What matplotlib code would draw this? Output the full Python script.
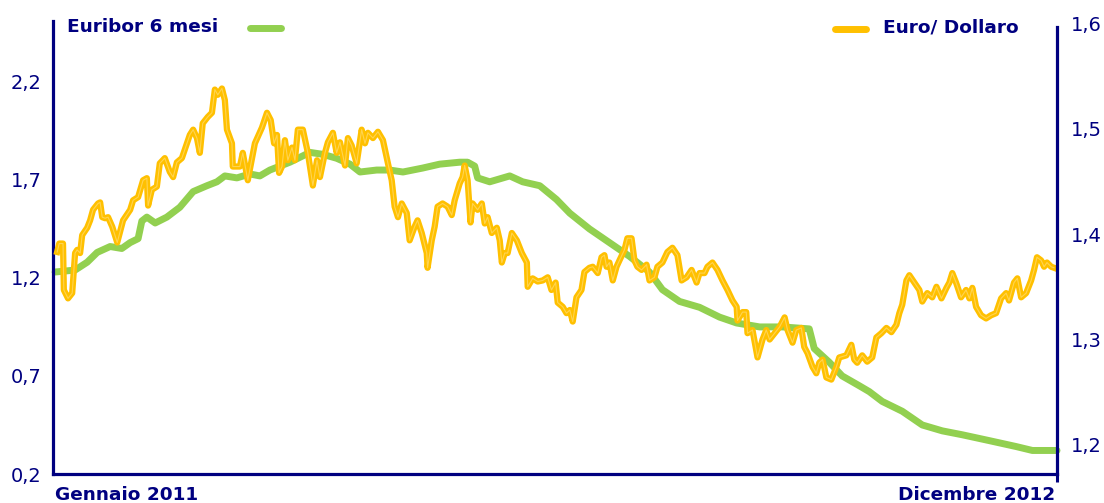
import matplotlib
matplotlib.use("Agg")
import matplotlib.pyplot as plt
from matplotlib.lines import Line2D

# Euribor 6 mesi (left axis), months since January 2011
euribor_months = [0, 0.48, 0.77, 1.01, 1.32, 1.60, 1.80, 1.99, 2.08, 2.20, 2.40, 2.68, 2.99,
                  3.31, 3.64, 3.88, 4.07, 4.36, 4.67, 4.91, 5.15, 5.63, 6.11, 6.42, 6.75,
                  7.07, 7.31, 7.71, 8.02, 8.34, 8.81, 9.22, 9.70, 9.89, 10.06, 10.13, 10.42,
                  10.90, 11.21, 11.62, 12.02, 12.34, 12.81, 13.29, 13.77, 14.25, 14.56, 14.97,
                  15.45, 15.93, 16.34, 16.89, 17.44, 18.08, 18.20, 18.56, 18.87, 19.28, 19.52,
                  19.83, 20.31, 20.79, 21.27, 21.75, 22.40, 23.04, 23.43, 24.02]
euribor_6m = [1.23, 1.24, 1.28, 1.33, 1.36, 1.35, 1.38, 1.40, 1.49, 1.51, 1.48, 1.51, 1.56,
              1.64, 1.67, 1.69, 1.72, 1.71, 1.73, 1.72, 1.75, 1.79, 1.84, 1.83, 1.81,
              1.78, 1.74, 1.75, 1.75, 1.74, 1.76, 1.78, 1.79, 1.79, 1.77, 1.71, 1.69,
              1.72, 1.69, 1.67, 1.60, 1.53, 1.45, 1.38, 1.31, 1.23, 1.14, 1.08,
              1.05, 1.00, 0.97, 0.95, 0.95, 0.94, 0.84, 0.77, 0.70, 0.65, 0.62,
              0.57, 0.52, 0.45, 0.42, 0.40, 0.37, 0.34, 0.32, 0.32]

# Euro / Dollaro (right axis)
fx_months = [0.05, 0.10, 0.19, 0.21, 0.31, 0.41, 0.48, 0.53, 0.60, 0.65, 0.77, 0.84, 0.91,
             1.03, 1.08, 1.13, 1.20, 1.27, 1.37, 1.49, 1.63, 1.80, 1.87, 1.99, 2.11, 2.20,
             2.23, 2.32, 2.44, 2.51, 2.63, 2.75, 2.83, 2.92, 3.04, 3.16, 3.23, 3.31, 3.40,
             3.47, 3.54, 3.66, 3.76, 3.83, 3.90, 4.00, 4.07, 4.12, 4.24, 4.26, 4.43, 4.50,
             4.62, 4.79, 4.96, 5.08, 5.17, 5.25, 5.32, 5.37, 5.44, 5.51, 5.58, 5.68, 5.75,
             5.82, 5.94, 6.06, 6.18, 6.28, 6.35, 6.47, 6.54, 6.66, 6.75, 6.83, 6.95, 7.02,
             7.11, 7.23, 7.35, 7.43, 7.50, 7.62, 7.74, 7.86, 7.98, 8.07, 8.14, 8.22, 8.31,
             8.43, 8.50, 8.62, 8.69, 8.79, 8.91, 8.93, 9.03, 9.10, 9.17, 9.29, 9.41, 9.51,
             9.58, 9.70, 9.77, 9.82, 9.89, 9.96, 10.01, 10.13, 10.23, 10.30, 10.37, 10.47,
             10.59, 10.66, 10.71, 10.78, 10.85, 10.95, 11.07, 11.19, 11.31, 11.33, 11.45,
             11.57, 11.69, 11.81, 11.90, 12.00, 12.05, 12.17, 12.26, 12.34, 12.41, 12.50,
             12.62, 12.69, 12.81, 12.89, 13.01, 13.10, 13.17, 13.22, 13.29, 13.37, 13.46,
             13.53, 13.65, 13.72, 13.82, 13.89, 13.96, 14.06, 14.18, 14.25, 14.37, 14.44,
             14.56, 14.68, 14.80, 14.92, 15.02, 15.14, 15.26, 15.38, 15.45, 15.57, 15.64,
             15.76, 15.88, 16.00, 16.12, 16.24, 16.34, 16.36, 16.48, 16.57, 16.60, 16.72,
             16.84, 16.96, 17.05, 17.13, 17.25, 17.37, 17.49, 17.56, 17.68, 17.77, 17.89,
             17.96, 18.04, 18.16, 18.25, 18.32, 18.40, 18.49, 18.61, 18.73, 18.80, 18.97,
             19.09, 19.16, 19.23, 19.35, 19.47, 19.59, 19.69, 19.81, 19.93, 20.05, 20.17,
             20.24, 20.31, 20.41, 20.48, 20.60, 20.72, 20.79, 20.91, 21.03, 21.13, 21.25,
             21.37, 21.44, 21.51, 21.60, 21.72, 21.84, 21.92, 21.99, 22.08, 22.20, 22.32,
             22.44, 22.56, 22.68, 22.80, 22.87, 22.99, 23.07, 23.16, 23.28, 23.40, 23.47,
             23.54, 23.64, 23.71, 23.78, 23.88, 23.95]
eur_usd = [1.383, 1.391, 1.391, 1.347, 1.339, 1.344, 1.382, 1.385, 1.382, 1.399, 1.406, 1.413, 1.423,
           1.429, 1.430, 1.416, 1.415, 1.416, 1.407, 1.392, 1.413, 1.423, 1.432, 1.435, 1.451, 1.453,
           1.427, 1.442, 1.445, 1.467, 1.472, 1.459, 1.454, 1.468, 1.472, 1.486, 1.494, 1.499, 1.491,
           1.477, 1.505, 1.511, 1.515, 1.537, 1.532, 1.538, 1.527, 1.499, 1.486, 1.464, 1.464, 1.477,
           1.451, 1.486, 1.501, 1.515, 1.508, 1.486, 1.494, 1.458, 1.464, 1.489, 1.470, 1.482, 1.470,
           1.499, 1.499, 1.477, 1.446, 1.470, 1.454, 1.477, 1.487, 1.496, 1.477, 1.487, 1.465, 1.491,
           1.484, 1.467, 1.499, 1.486, 1.496, 1.491, 1.497, 1.489, 1.467, 1.451, 1.426, 1.416, 1.429,
           1.420, 1.394, 1.407, 1.413, 1.401, 1.382, 1.368, 1.394, 1.407, 1.426, 1.429, 1.426, 1.418,
           1.432, 1.448, 1.454, 1.465, 1.451, 1.411, 1.429, 1.423, 1.429, 1.410, 1.416, 1.401,
           1.406, 1.394, 1.373, 1.382, 1.382, 1.401, 1.394, 1.382, 1.373, 1.350, 1.358,
           1.355, 1.356, 1.359, 1.347, 1.354, 1.335, 1.331, 1.325, 1.328, 1.317, 1.340,
           1.347, 1.364, 1.368, 1.369, 1.363, 1.378, 1.380, 1.369, 1.373, 1.356, 1.369,
           1.375, 1.385, 1.396, 1.396, 1.375, 1.369, 1.366, 1.371, 1.356, 1.359, 1.369,
           1.373, 1.383, 1.387, 1.380, 1.356, 1.359, 1.366, 1.354, 1.363, 1.363, 1.369,
           1.373, 1.366, 1.356, 1.347, 1.337, 1.331, 1.318, 1.326, 1.326, 1.306, 1.309,
           1.283, 1.300, 1.309, 1.300, 1.306, 1.312, 1.321, 1.309, 1.297, 1.309, 1.311,
           1.293, 1.287, 1.274, 1.268, 1.278, 1.281, 1.264, 1.262, 1.274, 1.283, 1.285,
           1.295, 1.281, 1.278, 1.285, 1.279, 1.283, 1.302, 1.306, 1.311, 1.307, 1.314,
           1.325, 1.333, 1.356, 1.361, 1.354, 1.347, 1.336, 1.344, 1.340, 1.350, 1.339,
           1.349, 1.354, 1.363, 1.354, 1.340, 1.347, 1.339, 1.349, 1.331, 1.323, 1.320,
           1.323, 1.325, 1.339, 1.344, 1.337, 1.354, 1.358, 1.340, 1.344, 1.356, 1.366,
           1.378, 1.375, 1.369, 1.373, 1.369, 1.368]

left_ticks = [0.2, 0.7, 1.2, 1.7, 2.2]
right_ticks = [1.2, 1.3, 1.4, 1.5, 1.6]

navy = "#000080"
green = "#92D050"
gold = "#FFC000"

W, H = 1104, 503
fig = plt.figure(figsize=(W / 100, H / 100), dpi=100)
ax = fig.add_axes([53 / W, 29 / H, 1004 / W, 453 / H])
ax2 = ax.twinx()

ax.plot(euribor_months, euribor_6m, color=green, lw=5, solid_capstyle="round",
        solid_joinstyle="round", clip_on=False)
ax2.plot(fx_months, eur_usd, color=gold, lw=4.5, solid_joinstyle="round")
ax2.plot(fx_months, eur_usd, color="#FFD451", lw=0.8, solid_joinstyle="round")

ax.set_xlim(-0.05, 24.02)
ax.set_ylim(0.2, 2.51)
ax2.set_ylim(1.1725, 1.602)

ax.set_yticks(left_ticks)
ax.set_yticklabels([f"{v:.1f}".replace(".", ",") for v in left_ticks])
ax2.set_yticks(right_ticks)
ax2.set_yticklabels([f"{v:.1f}".replace(".", ",") for v in right_ticks])
ax.set_xticks([24.02])
ax.set_xticklabels([""])

ax.tick_params(axis="y", length=0, pad=8, labelsize=14, labelcolor=navy)
ax2.tick_params(axis="y", length=0, pad=10, labelsize=14, labelcolor=navy)
ax.tick_params(axis="x", length=6, width=2.2, color=navy)

for a in (ax, ax2):
    a.spines["top"].set_visible(False)
    for side in ("left", "right", "bottom"):
        a.spines[side].set_color(navy)
        a.spines[side].set_linewidth(2.3)
ax.spines["right"].set_visible(False)
ax2.spines["left"].set_visible(False)
ax2.spines["bottom"].set_visible(False)
ax2.spines["right"].set_bounds(1.1725, 1.596)

# legend labels and swatches
fig.text(67 / W, 1 - 27 / H, "Euribor 6 mesi", color=navy, fontsize=13.3,
         fontweight="bold", va="center", ha="left")
fig.add_artist(Line2D([250 / W, 281 / W], [1 - 28 / H] * 2, color=green, lw=5,
                      solid_capstyle="round"))
fig.text(1019 / W, 1 - 27 / H, "Euro/ Dollaro", color=navy, fontsize=13.3,
         fontweight="bold", va="center", ha="right")
fig.add_artist(Line2D([835 / W, 866 / W], [1 - 29 / H] * 2, color=gold, lw=5,
                      solid_capstyle="round"))

# period labels under the axis
fig.text(55 / W, 8 / H, "Gennaio 2011", color=navy, fontsize=13.3,
         fontweight="bold", va="center", ha="left")
fig.text(1055 / W, 8 / H, "Dicembre 2012", color=navy, fontsize=13.3,
         fontweight="bold", va="center", ha="right")

fig.savefig("out.png", dpi=100)
